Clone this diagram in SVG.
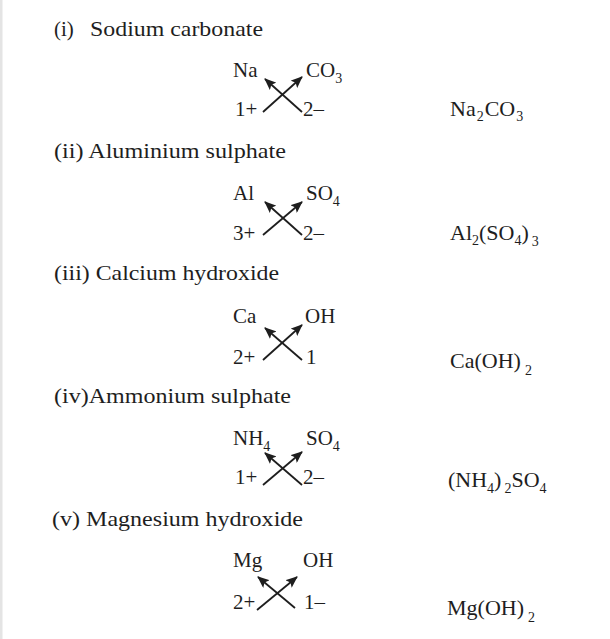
<svg xmlns="http://www.w3.org/2000/svg" width="610" height="639" viewBox="0 0 610 639">
<style>
text{font-family:"Liberation Serif","Times New Roman",serif;fill:#1e1e1e}
.h{font-size:21px}
.l{font-size:21px}
.f{font-size:22px}
.s{font-size:14px}
.c{stroke:#1e1e1e;stroke-width:1.8;fill:none}
</style>
<defs>
<marker id="ah" markerUnits="userSpaceOnUse" markerWidth="12" markerHeight="10" refX="11" refY="5" orient="auto">
<path d="M0,0 L12,5 L0,10 L2.5,5 z" fill="#1e1e1e"/>
</marker>
</defs>
<rect width="610" height="639" fill="#fff"/>
<rect x="0" y="0" width="2.5" height="639" fill="#e4e4e4"/>

<g id="sec1">
<text class="h" x="54" y="36">(i)</text>
<text class="h" x="90" y="36" textLength="173" lengthAdjust="spacingAndGlyphs">Sodium carbonate</text>
<text class="l" x="233" y="77">Na</text>
<text class="l" x="306" y="77">CO<tspan class="s" dy="6">3</tspan></text>
<text class="l" x="235" y="116">1+</text>
<text class="l" x="303" y="116">2–</text>
<text class="f" x="450" y="116">Na<tspan class="s" dx="1" dy="5">2</tspan><tspan dx="1" dy="-5">CO</tspan><tspan class="s" dx="1" dy="5">3</tspan></text>
</g>

<g id="sec2">
<text class="h" x="54" y="158" textLength="232" lengthAdjust="spacingAndGlyphs">(ii) Aluminium sulphate</text>
<text class="l" x="233" y="200">Al</text>
<text class="l" x="306" y="200">SO<tspan class="s" dy="6">4</tspan></text>
<text class="l" x="233" y="240">3+</text>
<text class="l" x="303" y="240">2–</text>
<text class="f" x="450" y="240">Al<tspan class="s" dy="5">2</tspan><tspan dy="-5">(SO</tspan><tspan class="s" dy="5">4</tspan><tspan dy="-5">)</tspan><tspan class="s" dx="3" dy="6">3</tspan></text>
</g>

<g id="sec3">
<text class="h" x="54" y="280" textLength="225" lengthAdjust="spacingAndGlyphs">(iii) Calcium hydroxide</text>
<text class="l" x="233" y="323">Ca</text>
<text class="l" x="305" y="323">OH</text>
<text class="l" x="233" y="364">2+</text>
<text class="l" x="306" y="364">1</text>
<text class="f" x="450" y="368">Ca(OH)<tspan class="s" dx="4" dy="7">2</tspan></text>
</g>

<g id="sec4">
<text class="h" x="54" y="403" textLength="237" lengthAdjust="spacingAndGlyphs">(iv)Ammonium sulphate</text>
<text class="l" x="233" y="445">NH<tspan class="s" dy="6">4</tspan></text>
<text class="l" x="306" y="445">SO<tspan class="s" dy="6">4</tspan></text>
<text class="l" x="235" y="484">1+</text>
<text class="l" x="303" y="484">2–</text>
<text class="f" x="448" y="487">(NH<tspan class="s" dy="6">4</tspan><tspan dy="-6">)</tspan><tspan class="s" dx="3" dy="6">2</tspan><tspan dy="-6">SO</tspan><tspan class="s" dy="6">4</tspan></text>
</g>

<g id="sec5">
<text class="h" x="52" y="526" textLength="251" lengthAdjust="spacingAndGlyphs">(v) Magnesium hydroxide</text>
<text class="l" x="233" y="567">Mg</text>
<text class="l" x="303" y="567">OH</text>
<text class="l" x="233" y="609">2+</text>
<text class="l" x="304" y="609">1–</text>
<text class="f" x="447" y="615">Mg(OH)<tspan class="s" dx="4" dy="7">2</tspan></text>
</g>

<g id="connectors">
<line class="c" x1="263" y1="112" x2="302" y2="77" marker-end="url(#ah)"/>
<line class="c" x1="302" y1="112" x2="265" y2="79" marker-end="url(#ah)"/>
<line class="c" x1="263" y1="235" x2="302" y2="202" marker-end="url(#ah)"/>
<line class="c" x1="302" y1="235" x2="265" y2="202" marker-end="url(#ah)"/>
<line class="c" x1="263" y1="360" x2="302" y2="325" marker-end="url(#ah)"/>
<line class="c" x1="302" y1="360" x2="265" y2="328" marker-end="url(#ah)"/>
<line class="c" x1="263" y1="485" x2="302" y2="452" marker-end="url(#ah)"/>
<line class="c" x1="302" y1="485" x2="265" y2="453" marker-end="url(#ah)"/>
<line class="c" x1="257" y1="610" x2="297" y2="577" marker-end="url(#ah)"/>
<line class="c" x1="295" y1="608" x2="258" y2="577" marker-end="url(#ah)"/>
</g>
</svg>
